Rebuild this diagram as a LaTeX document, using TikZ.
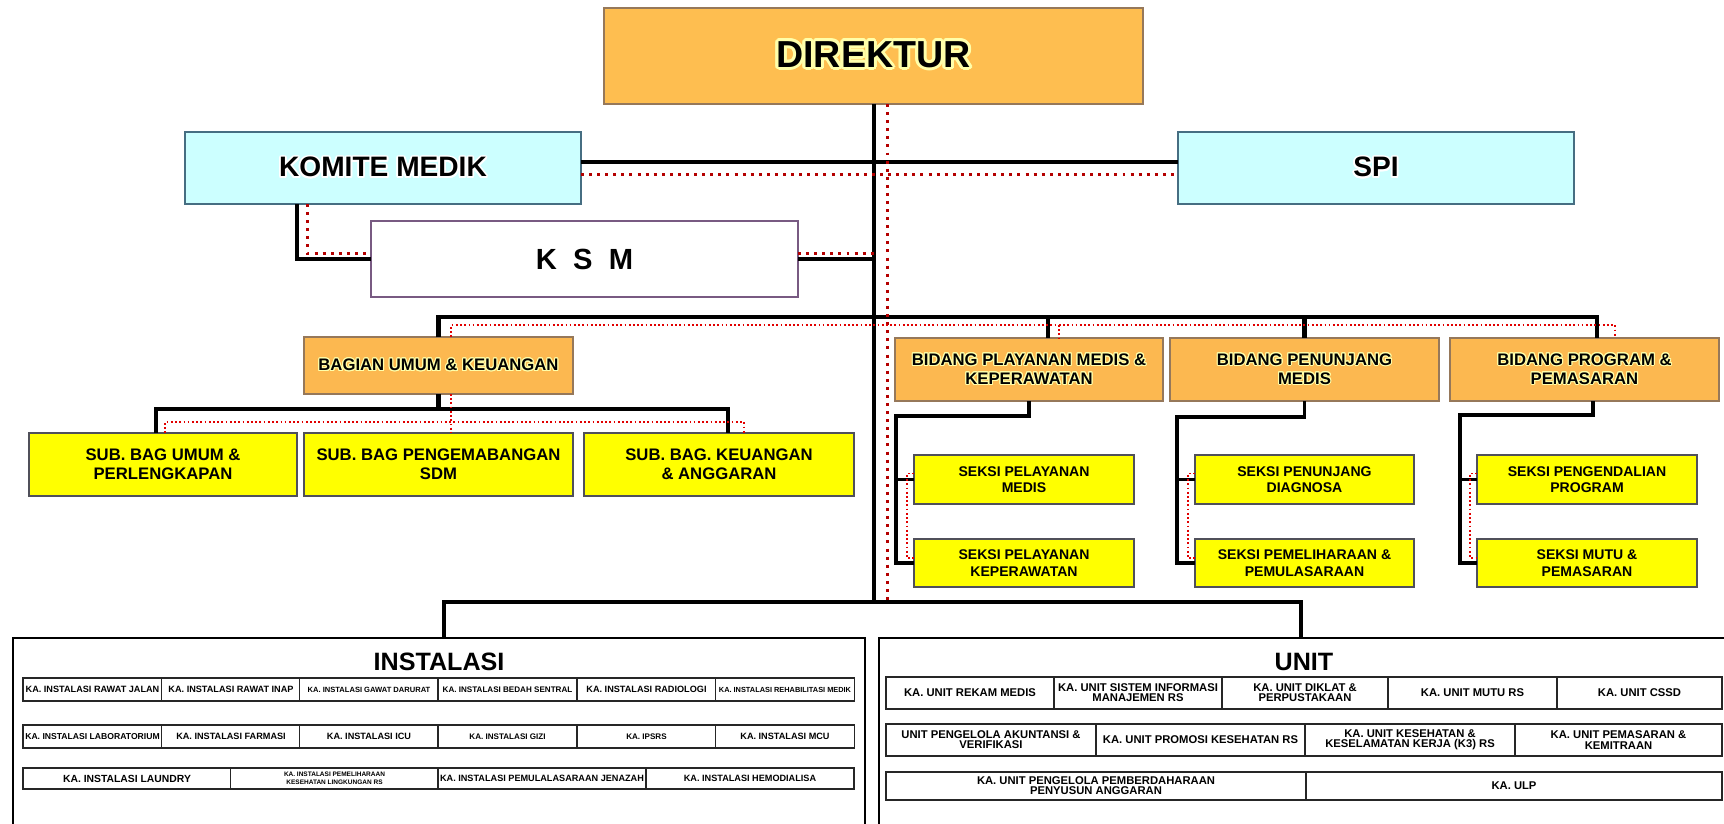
\documentclass[tikz,border=0pt]{standalone}
\usepackage{fontspec}
\setmainfont{Liberation Sans}
\usepackage{contour}
\contourlength{0.6pt}
\definecolor{dirfill}{RGB}{254,190,80}
\definecolor{headfill}{RGB}{252,184,80}
\definecolor{headline}{RGB}{150,120,90}
\definecolor{medfill}{RGB}{204,255,255}
\definecolor{medline}{RGB}{70,110,130}
\definecolor{ksmline}{RGB}{120,90,130}
\definecolor{subfill}{RGB}{255,255,0}
\definecolor{subline}{RGB}{80,80,90}
\definecolor{dotdark}{RGB}{180,0,0}
\definecolor{dotred}{RGB}{225,0,0}
\definecolor{glowc}{RGB}{255,255,170}
\newcommand{\gl}[1]{\contour{glowc}{#1}}
\newcommand{\glw}[1]{\contour{white}{#1}}
\newcommand{\fs}[2]{\fontsize{#1}{#2}\selectfont\bfseries}
\begin{document}
\begin{tikzpicture}[x=0.02cm, y=-0.02cm,
  every node/.style={inner sep=0pt, outer sep=0pt},
  sz/.style 2 args={minimum width=#1*0.02cm, minimum height=#2*0.02cm},
  dirbox/.style={draw=headline, line width=0.8pt, fill=dirfill, font=\fs{21.4}{24}},
  medbox/.style={draw=medline, line width=0.7pt, fill=medfill, font=\fs{16}{18}},
  ksmbox/.style={draw=ksmline, line width=0.7pt, fill=white, font=\fs{16.6}{18}},
  headbox/.style={draw=headline, line width=0.7pt, fill=headfill, align=center, font=\fs{9.5}{10.8}},
  subbox/.style={draw=subline, line width=0.8pt, fill=subfill, align=center, font=\fs{9.5}{10.6}},
  sekbox/.style={subbox, font=\fs{8}{9.5}},
  grpbox/.style={draw=black, line width=1.4pt, fill=white},
  grptitle/.style={font=\fs{14.3}{16}},
  cell/.style={draw=black!85, line width=0.8pt, fill=white, align=center, font=\fs{5.2}{6}},
  ucell/.style={cell, font=\fs{6.4}{5.8}},
  blk/.style={line width=2.3pt},
  blk2/.style={line width=2pt},
  rthick/.style={dotdark, line width=1.7pt, dash pattern=on 1.7pt off 2.9pt},
  rthin/.style={dotred, line width=1pt, dash pattern=on 1pt off 1.4pt}]
\clip (0,0) rectangle (1724,823);
\fill[white] (0,0) rectangle (1724,823);

\node[dirbox, sz={539}{96}] (dir) at (873.5,56) {\contourlength{1.6pt}\gl{DIREKTUR}};
\node[medbox, sz={396}{72}] (kom) at (383,168) {\contourlength{1pt}\glw{KOMITE MEDIK}};
\node[medbox, sz={396}{72}] (spi) at (1376,168) {\contourlength{1pt}\glw{SPI}};
\node[ksmbox, sz={427}{76}] (ksm) at (584.5,259) {K\ \ S\ \ M};

\node[headbox, sz={269}{57}] (bag) at (438.5,365.5) {\gl{BAGIAN UMUM \& KEUANGAN}};
\node[subbox, sz={268}{63}] (sub1) at (163,464.5) {SUB. BAG UMUM \&\\PERLENGKAPAN};
\node[subbox, sz={269}{63}] (sub2) at (438.5,464.5) {SUB. BAG PENGEMABANGAN\\SDM};
\node[subbox, sz={270}{63}] (sub3) at (719,464.5) {SUB. BAG. KEUANGAN\\\& ANGGARAN};

\node[headbox, sz={268}{63}] (bid1) at (1029,369.5) {\gl{BIDANG PLAYANAN MEDIS \&}\\\gl{KEPERAWATAN}};
\node[headbox, sz={269}{63}] (bid2) at (1304.5,369.5) {\gl{BIDANG PENUNJANG}\\\gl{MEDIS}};
\node[headbox, sz={269}{63}] (bid3) at (1584.5,369.5) {\gl{BIDANG PROGRAM \&}\\\gl{PEMASARAN}};

\node[sekbox, sz={220}{49}] (sek11) at (1024,479.5) {SEKSI PELAYANAN\\MEDIS};
\node[sekbox, sz={220}{48}] (sek12) at (1024,563) {SEKSI PELAYANAN\\KEPERAWATAN};
\node[sekbox, sz={219}{49}] (sek21) at (1304.5,479.5) {SEKSI PENUNJANG\\DIAGNOSA};
\node[sekbox, sz={219}{48}] (sek22) at (1304.5,563) {SEKSI PEMELIHARAAN \&\\PEMULASARAAN};
\node[sekbox, sz={220}{49}] (sek31) at (1587,479.5) {SEKSI PENGENDALIAN\\PROGRAM};
\node[sekbox, sz={220}{48}] (sek32) at (1587,563) {SEKSI MUTU \&\\PEMASARAN};

\node[grpbox, sz={852}{230}] (ins) at (439,753) {};
\node[grpbox, sz={861}{230}] (uni) at (1309.5,753) {};
\node[grptitle] (inst) at (439,662) {INSTALASI};
\node[grptitle] (unt) at (1304,662) {UNIT};

\node[cell, sz={139}{23}] (ins1) at (92.5,689.5) {KA. INSTALASI RAWAT JALAN};
\node[cell, sz={139}{23}] (ins2) at (231,689.5) {KA. INSTALASI RAWAT INAP};
\node[cell, sz={139}{23}, font=\fs{4.3}{5}] (ins3) at (369,689.5) {KA. INSTALASI GAWAT DARURAT};
\node[cell, sz={139}{23}, font=\fs{4.6}{5}] (ins4) at (507.5,689.5) {KA. INSTALASI BEDAH SENTRAL};
\node[cell, sz={139}{23}] (ins5) at (646.5,689.5) {KA. INSTALASI RADIOLOGI};
\node[cell, sz={139}{23}, font=\fs{4.2}{5}] (ins6) at (785,689.5) {KA. INSTALASI REHABILITASI MEDIK};
\node[cell, sz={139}{23}, font=\fs{4.9}{5}] (ins7) at (92.5,736.5) {KA. INSTALASI LABORATORIUM};
\node[cell, sz={139}{23}] (ins8) at (231,736.5) {KA. INSTALASI FARMASI};
\node[cell, sz={139}{23}] (ins9) at (369,736.5) {KA. INSTALASI ICU};
\node[cell, sz={139}{23}, font=\fs{4.6}{5}] (ins10) at (507.5,736.5) {KA. INSTALASI GIZI};
\node[cell, sz={139}{23}, font=\fs{4.6}{5}] (ins11) at (646.5,736.5) {KA. IPSRS};
\node[cell, sz={139}{23}] (ins12) at (785,736.5) {KA. INSTALASI MCU};
\node[cell, sz={208}{21}, font=\fs{5.9}{6}] (ins13) at (127,778.5) {KA. INSTALASI LAUNDRY};
\node[cell, sz={208}{21}, font=\fs{3.7}{4.6}] (ins14) at (334.5,778.5) {KA. INSTALASI PEMELIHARAAN\\KESEHATAN LINGKUNGAN RS};
\node[cell, sz={208}{21}] (ins15) at (542,778.5) {KA. INSTALASI PEMULALASARAAN JENAZAH};
\node[cell, sz={208}{21}] (ins16) at (750,778.5) {KA. INSTALASI HEMODIALISA};

\node[ucell, sz={168}{32}] (uni1) at (970,693) {KA. UNIT REKAM MEDIS};
\node[ucell, sz={168}{32}] (uni2) at (1138,693) {KA. UNIT SISTEM INFORMASI\\MANAJEMEN RS};
\node[ucell, sz={166}{32}] (uni3) at (1305,693) {KA. UNIT DIKLAT \&\\PERPUSTAKAAN};
\node[ucell, sz={169}{32}] (uni4) at (1472.5,693) {KA. UNIT MUTU RS};
\node[ucell, sz={165}{32}] (uni5) at (1639.5,693) {KA. UNIT CSSD};
\node[ucell, sz={210}{32}] (uni6) at (991,740) {UNIT PENGELOLA AKUNTANSI \&\\VERIFIKASI};
\node[ucell, sz={209}{32}] (uni7) at (1200.5,740) {KA. UNIT PROMOSI KESEHATAN RS};
\node[ucell, sz={210}{32}] (uni8) at (1410,740) {KA. UNIT KESEHATAN \&\\KESELAMATAN KERJA (K3) RS};
\node[ucell, sz={207}{32}] (uni9) at (1618.5,740) {KA. UNIT PEMASARAN \&\\KEMITRAAN};
\node[ucell, sz={420}{28}] (uni10) at (1096,786) {KA. UNIT PENGELOLA PEMBERDAHARAAN\\PENYUSUN ANGGARAN};
\node[ucell, sz={416}{28}] (uni11) at (1514,786) {KA. ULP};

\coordinate (jb) at (874,602);
\coordinate (jr) at (887,602);
\coordinate (b0) at (444,602);
\coordinate (b1) at (1301,602);
\coordinate (bus) at (874,317);
\coordinate (d1) at (1048,317);
\coordinate (d3) at (1597,317);
\coordinate (r0) at (451,325);
\coordinate (r1) at (1059,325);
\coordinate (r3) at (1615,325);
\coordinate (s0) at (156,409);
\coordinate (s3) at (728,409);
\coordinate (q0) at (165,422);
\coordinate (q3) at (744,422);
\coordinate (k1) at (896,416);
\coordinate (k2) at (1177,417);
\coordinate (k3) at (1460,415);

\draw[blk] (dir.south -| jb) -- (jb);
\draw[blk] (b0 |- ins.north) -- (b0) -- (b1) -- (b1 |- uni.north);
\draw[blk] ([yshift=0.12cm]kom.east) -- ([yshift=0.12cm]spi.west);
\draw[blk] ([xshift=-1.72cm]kom.south) |- (ksm.west);
\draw[blk] (ksm.east) -- (ksm.east -| jb);
\draw[blk] (bag.north) |- (d3) -- (d3 |- bid3.north);
\draw[blk] (d1) -- (d1 |- bid1.north);
\draw[blk] (bid2.north |- bus) -- (bid2.north);
\draw[blk] (bag.south) -- (bag.south |- s0);
\draw[blk] (s0 |- sub1.north) -- (s0) -- (s3) -- (s3 |- sub3.north);
\draw[blk2] (bid1.south) |- (k1) |- (sek12.west);
\draw[blk2] (k1 |- sek11.west) -- (sek11.west);
\draw[blk2] (bid2.south) |- (k2) |- (sek22.west);
\draw[blk2] (k2 |- sek21.west) -- (sek21.west);
\draw[blk2] ([xshift=0.17cm]bid3.south) |- (k3) |- (sek32.west);
\draw[blk2] (k3 |- sek31.west) -- (sek31.west);

\draw[rthick] (dir.south -| jr) -- (jr);
\draw[rthick] ([yshift=-0.12cm]kom.east) -- ([yshift=-0.12cm]spi.west);
\draw[rthick] ([xshift=-1.52cm]kom.south) |- ([yshift=0.12cm]ksm.west);
\draw[rthick] ([yshift=0.12cm]ksm.east) -- ([yshift=0.12cm]ksm.east -| jb);
\draw[rthin] (r0 |- bag.north) -- (r0) -- (r3) -- (r3 |- bid3.north);
\draw[rthin] (r1) -- (r1 |- bid1.north);
\draw[rthin] ([xshift=0.25cm]bag.south) -- ([xshift=0.25cm]sub2.north);
\draw[rthin] (q0 |- sub1.north) -- (q0) -- (q3) -- (q3 |- sub3.north);
\draw[rthin] ([yshift=0.12cm]sek11.west) -- ++(-7,0) |- ([yshift=0.1cm]sek12.west);
\draw[rthin] ([yshift=0.12cm]sek21.west) -- ++(-7,0) |- ([yshift=0.1cm]sek22.west);
\draw[rthin] ([yshift=0.12cm]sek31.west) -- ++(-7,0) |- ([yshift=0.1cm]sek32.west);
\end{tikzpicture}
\end{document}
